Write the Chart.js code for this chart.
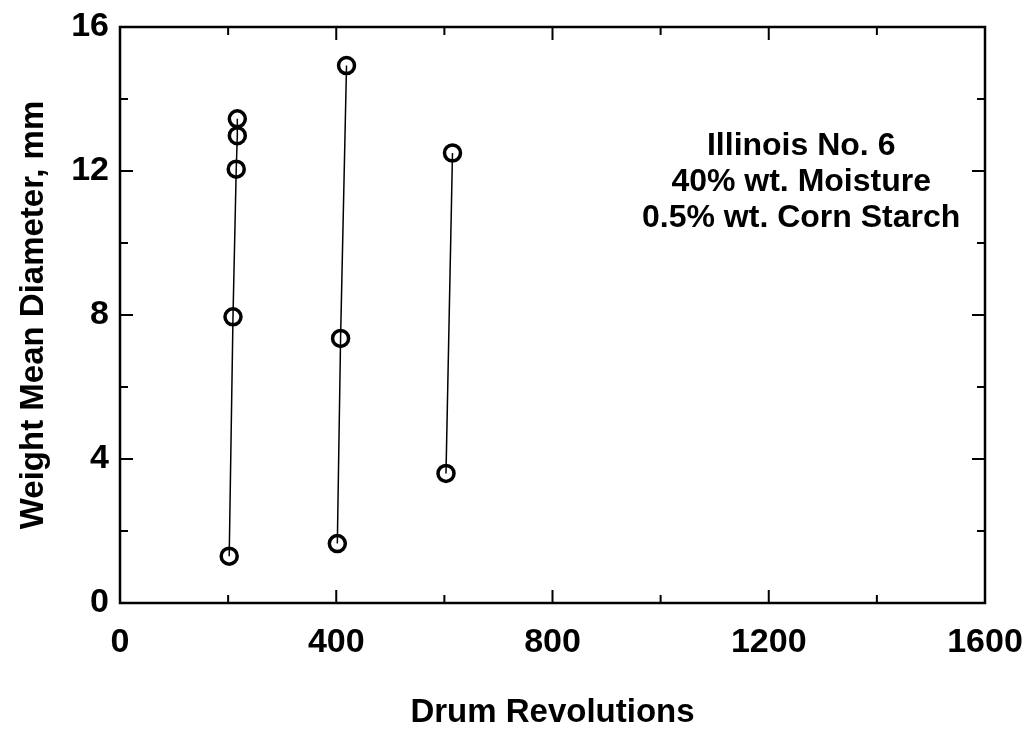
<!DOCTYPE html>
<html>
<head>
<meta charset="utf-8">
<script src="https://cdn.jsdelivr.net/npm/chart.js@4/dist/chart.umd.min.js"></script>
<style>
	body { margin: 0; background: #fff; }
</style>
</head>
<body>
<canvas id="chart" width="1025" height="731"></canvas>
<script>
// Drum revolutions vs weight mean diameter, three runs
const run200X = [ 202, 209, 215, 217, 217 ];
const run200Y = [ 1.3, 7.95, 12.05, 12.98, 13.45 ];
const run400X = [ 402, 408, 419 ];
const run400Y = [ 1.65, 7.35, 14.93 ];
const run600X = [ 603, 615 ];
const run600Y = [ 3.6, 12.5 ];

const xMajorTicks = [ 400, 800, 1200 ];
const xMinorTicks = [ 200, 600, 1000, 1400 ];
const yMajorTicks = [ 4, 8, 12 ];
const yMinorTicks = [ 2, 6, 10, 14 ];

const noteLines = [ 'Illinois No. 6', '40% wt. Moisture', '0.5% wt. Corn Starch' ];

const fontFamily = "'Liberation Sans', Arial, sans-serif";

function toPoints( xs, ys ) {
	return xs.map( function ( x, i ) {
		return { x: x, y: ys[ i ] };
	} );
}

function runDataset( xs, ys ) {
	return {
		data: toPoints( xs, ys ),
		showLine: true,
		borderColor: '#000',
		borderWidth: 1.5,
		pointRadius: 8,
		pointBorderWidth: 3.5,
		pointBorderColor: '#000',
		pointBackgroundColor: 'rgba(0,0,0,0)'
	};
}

// Frame box with inward ticks on all four sides, plus the text note.
const frameTicks = {
	id: 'frameTicks',
	afterDraw( chart ) {
		const ctx = chart.ctx,
			a = chart.chartArea,
			x = chart.scales.x,
			y = chart.scales.y;

		ctx.save();
		ctx.strokeStyle = '#000';
		ctx.lineWidth = 2;

		function xTick( v, len ) {
			const px = x.getPixelForValue( v );
			ctx.beginPath();
			ctx.moveTo( px, a.bottom );
			ctx.lineTo( px, a.bottom - len );
			ctx.moveTo( px, a.top );
			ctx.lineTo( px, a.top + len );
			ctx.stroke();
		}
		function yTick( v, len ) {
			const py = y.getPixelForValue( v );
			ctx.beginPath();
			ctx.moveTo( a.left, py );
			ctx.lineTo( a.left + len, py );
			ctx.moveTo( a.right, py );
			ctx.lineTo( a.right - len, py );
			ctx.stroke();
		}
		xMajorTicks.forEach( v => xTick( v, 13 ) );
		xMinorTicks.forEach( v => xTick( v, 8 ) );
		yMajorTicks.forEach( v => yTick( v, 13 ) );
		yMinorTicks.forEach( v => yTick( v, 8 ) );

		ctx.lineWidth = 2.5;
		ctx.strokeRect( a.left, a.top, a.right - a.left, a.bottom - a.top );

		// note
		ctx.fillStyle = '#000';
		ctx.font = 'bold 32px ' + fontFamily;
		ctx.textAlign = 'center';
		ctx.textBaseline = 'middle';
		const nx = x.getPixelForValue( 1260 );
		let ny = y.getPixelForValue( 12.7 );
		noteLines.forEach( function ( line ) {
			ctx.fillText( line, nx, ny );
			ny += 36;
		} );
		ctx.restore();
	}
};

new Chart( 'chart', {
	type: 'scatter',
	data: {
		datasets: [
			runDataset( run200X, run200Y ),
			runDataset( run400X, run400Y ),
			runDataset( run600X, run600Y )
		]
	},
	options: {
		responsive: false,
		animation: false,
		layout: {
			padding: { top: 27, right: 40, left: 0, bottom: 0 }
		},
		plugins: {
			legend: { display: false },
			tooltip: { enabled: false }
		},
		scales: {
			x: {
				type: 'linear',
				min: 0,
				max: 1600,
				grid: { display: false, drawTicks: false },
				border: { display: false },
				ticks: {
					stepSize: 400,
					padding: 19,
					color: '#000',
					font: { family: fontFamily, size: 34, weight: 'bold' },
					callback: v => String( v )
				},
				title: {
					display: true,
					text: 'Drum Revolutions',
					color: '#000',
					padding: { top: 0, bottom: 0 },
					font: { family: fontFamily, size: 33, weight: 'bold', lineHeight: 1.1 }
				},
				afterFit( s ) {
					s.height = 128;
					s.paddingLeft = 0;
					s.paddingRight = 0;
				}
			},
			y: {
				type: 'linear',
				min: 0,
				max: 16,
				grid: { display: false, drawTicks: false },
				border: { display: false },
				ticks: {
					stepSize: 4,
					padding: 11,
					color: '#000',
					font: { family: fontFamily, size: 34, weight: 'bold' },
					callback: v => String( v )
				},
				title: {
					display: true,
					text: 'Weight Mean Diameter, mm',
					color: '#000',
					padding: { top: 14, bottom: 0 },
					font: { family: fontFamily, size: 33, weight: 'bold' }
				},
				afterFit( s ) {
					s.width = 120;
					s.paddingTop = 0;
					s.paddingBottom = 0;
				}
			}
		}
	},
	plugins: [ frameTicks ]
} );
</script>
</body>
</html>
